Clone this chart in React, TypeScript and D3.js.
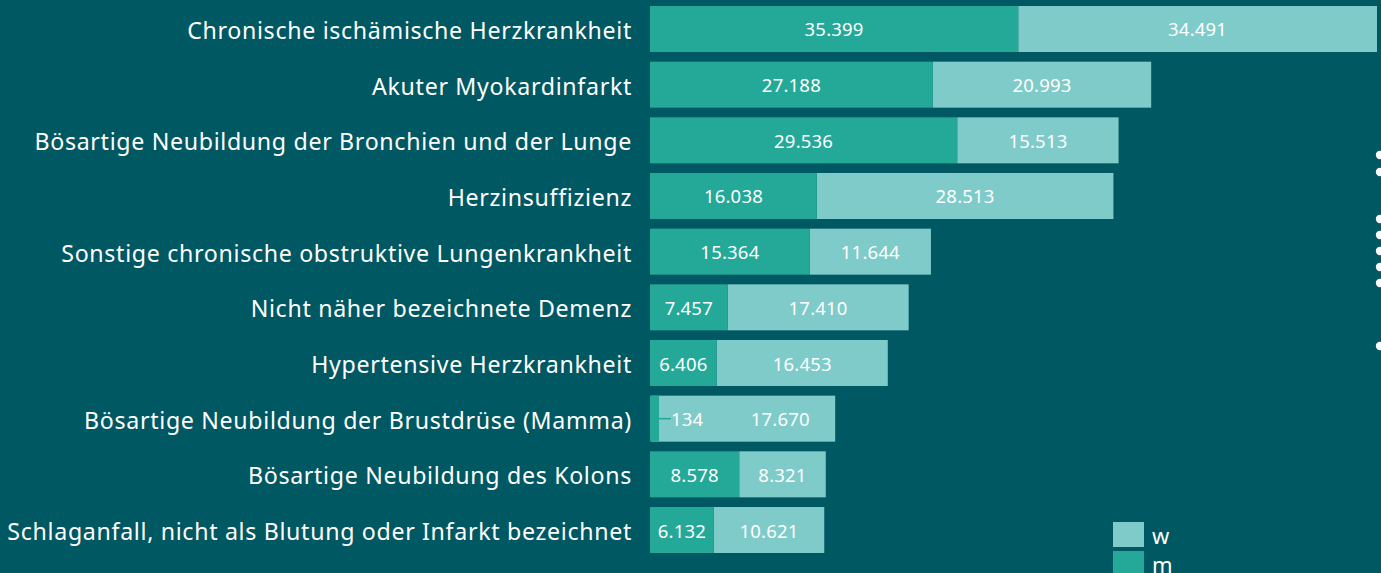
import React from "react";
import * as d3 from "d3";

const categories = [
  "Chronische ischämische Herzkrankheit",
  "Akuter Myokardinfarkt",
  "Bösartige Neubildung der Bronchien und der Lunge",
  "Herzinsuffizienz",
  "Sonstige chronische obstruktive Lungenkrankheit",
  "Nicht näher bezeichnete Demenz",
  "Hypertensive Herzkrankheit",
  "Bösartige Neubildung der Brustdrüse (Mamma)",
  "Bösartige Neubildung des Kolons",
  "Schlaganfall, nicht als Blutung oder Infarkt bezeichnet",
];
const male = [35399, 27188, 29536, 16038, 15364, 7457, 6406, 134, 8578, 6132];
const female = [34491, 20993, 15513, 28513, 11644, 17410, 16453, 17670, 8321, 10621];
const seriesNames = ["w", "m"];

const W = 1381;
const H = 573;
const BG = "#005862";
const M_COLOR = "#24a999";
const W_COLOR = "#7ecbc9";
const FONT = "'Noto Sans', 'Open Sans', sans-serif";

const fmt = (v: number) => d3.format(",")(v).replace(/,/g, ".");

export default function App() {
  const x = d3.scaleLinear().domain([0, 69890]).range([650, 1377]);
  const y = d3
    .scaleBand<string>()
    .domain(categories)
    .range([6, 553])
    .paddingInner(0.1737)
    .paddingOuter(0);
  const bw = y.bandwidth();
  const dots = [155, 172, 219, 235, 251, 267, 283, 346];

  return (
    <svg
      width={W}
      height={H}
      style={{ position: "absolute", left: 0, top: 0, background: BG, display: "block" }}
    >
      <rect x={0} y={0} width={W} height={H} fill={BG} />
      {categories.map((c, i) => {
        const y0 = y(c)!;
        const cy = y0 + bw / 2;
        const mW = x(male[i]) - x(0);
        const wX0 = x(male[i]);
        const wX1 = x(male[i] + female[i]);
        const small = mW < 30;
        return (
          <g key={c}>
            <text
              x={632}
              y={cy + 1}
              textAnchor="end"
              dominantBaseline="central"
              fill="#ffffff"
              fontFamily={FONT}
              fontSize={23.2}
              letterSpacing={0.67}
            >
              {c}
            </text>
            <rect x={wX0} y={y0} width={wX1 - wX0} height={bw} fill={W_COLOR} />
            <rect x={x(0)} y={y0} width={Math.max(mW, 9)} height={bw} fill={M_COLOR} />
            {small ? (
              <g>
                <line x1={x(0) + 9} x2={x(0) + 21} y1={cy} y2={cy} stroke={M_COLOR} strokeWidth={1.5} />
                <text
                  x={x(0) + 21}
                  y={cy}
                  dominantBaseline="central"
                  fill="#ffffff"
                  fontFamily={FONT}
                  fontSize={18.5}
                  letterSpacing={0.2}
                >
                  {fmt(male[i])}
                </text>
              </g>
            ) : (
              <text
                x={(x(0) + x(male[i])) / 2}
                y={cy}
                textAnchor="middle"
                dominantBaseline="central"
                fill="#ffffff"
                fontFamily={FONT}
                fontSize={18.5}
                letterSpacing={0.2}
              >
                {fmt(male[i])}
              </text>
            )}
            <text
              x={small ? (wX0 + wX1) / 2 + 37 : (wX0 + wX1) / 2}
              y={cy}
              textAnchor="middle"
              dominantBaseline="central"
              fill="#ffffff"
              fontFamily={FONT}
              fontSize={18.5}
              letterSpacing={0.2}
            >
              {fmt(female[i])}
            </text>
          </g>
        );
      })}
      {seriesNames.map((s, i) => (
        <g key={s}>
          <rect x={1113} y={522 + i * 29} width={31} height={25} fill={i === 0 ? W_COLOR : M_COLOR} />
          <text
            x={1152}
            y={535 + i * 29}
            dominantBaseline="central"
            fill="#ffffff"
            fontFamily={FONT}
            fontSize={22}
          >
            {s}
          </text>
        </g>
      ))}
      {dots.map((d) => (
        <circle key={d} cx={1380} cy={d} r={4.2} fill="#ffffff" />
      ))}
    </svg>
  );
}
